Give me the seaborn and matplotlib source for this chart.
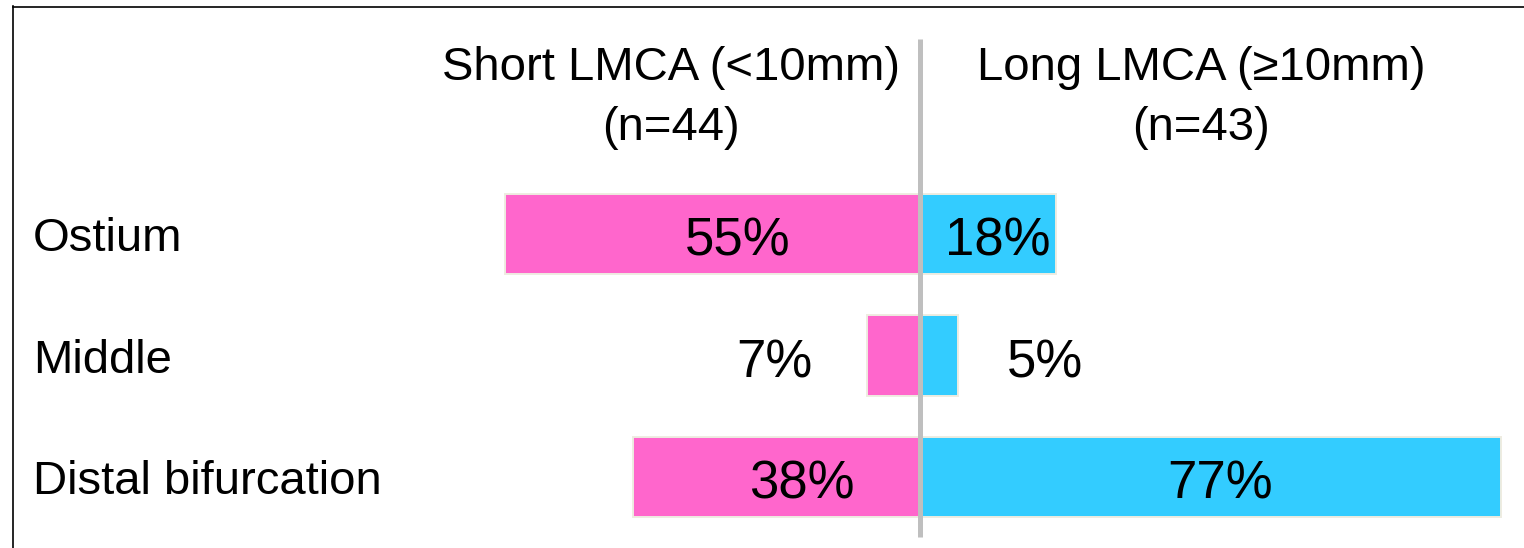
import matplotlib
matplotlib.use("Agg")
import matplotlib.pyplot as plt
import matplotlib.transforms as mtransforms
import pandas as pd
import seaborn as sns

# Lesion location by LMCA length (percent of patients)
locations = ["Ostium", "Middle", "Distal bifurcation"]
short_pct = [55, 7, 38]
long_pct = [18, 5, 77]
short_header = ["Short LMCA (<10mm)", "(n=44)"]
long_header = ["Long LMCA (\u226510mm)", "(n=43)"]

PINK = "#FF66CC"
BLUE = "#33CCFF"
EDGE = "#EEECE1"
GRAY = "#BFBFBF"

sns.set_style("white")
plt.rcParams["font.family"] = ["Liberation Sans", "DejaVu Sans"]
plt.rcParams["text.color"] = "black"

df = pd.DataFrame({
    "location": locations,
    "short": [-v for v in short_pct],
    "long": long_pct,
})

W, H = 1524, 548
fig = plt.figure(figsize=(W / 100, H / 100), dpi=100)
ax = fig.add_axes([13 / W, 0, 1 - 13 / W, 1 - 6.5 / H])

bar_kw = dict(orient="h", saturation=1, edgecolor=EDGE, linewidth=1.4,
              width=0.66, ax=ax, zorder=2)
sns.barplot(data=df, x="short", y="location", order=locations, color=PINK, **bar_kw)
sns.barplot(data=df, x="long", y="location", order=locations, color=BLUE, **bar_kw)

# scale: ~7.55 px per percentage point, centre divider at x=920 px
ax.set_xlim((13 - 920) / 7.55, (W - 920) / 7.55)
ax.set_ylim((H - 234) / 121.5, (6.5 - 234) / 121.5)

# centre divider
ax.plot([0, 0], [(537 - 234) / 121.5, (39 - 234) / 121.5], color=GRAY,
        lw=3.6, solid_capstyle="butt", zorder=3)

# frame: only top and left edges
for side in ["right", "bottom"]:
    ax.spines[side].set_visible(False)
for side in ["left", "top"]:
    ax.spines[side].set_visible(True)
    ax.spines[side].set_color("black")
    ax.spines[side].set_linewidth(1.2)

ax.set_xticks([])
ax.set_yticks([])
ax.set_xlabel("")
ax.set_ylabel("")

# category labels at the left
ytrans = mtransforms.blended_transform_factory(ax.transAxes, ax.transData)
for i, name in enumerate(locations):
    ax.text(20 / (W - 13), i + 0.14, name, transform=ytrans, ha="left",
            va="baseline", fontsize=34, color="black")

# percentage labels
PCT_FS = 38
for i, (s, l) in enumerate(zip(short_pct, long_pct)):
    if s >= 10:
        ax.text(-s / 2 + 3.4, i + 0.18, f"{s}%", ha="center", va="baseline",
                fontsize=PCT_FS, color="black", zorder=4)
    else:
        ax.text(-s - 7.2, i + 0.18, f"{s}%", ha="right", va="baseline",
                fontsize=PCT_FS, color="black", zorder=4)
    if l >= 10:
        ax.text(l / 2 + 1.3, i + 0.18, f"{l}%", ha="center", va="baseline",
                fontsize=PCT_FS, color="black", zorder=4)
    else:
        ax.text(l + 6.5, i + 0.18, f"{l}%", ha="left", va="baseline",
                fontsize=PCT_FS, color="black", zorder=4)

# column headers
for xc, lines in [(-33.0, short_header), (37.2, long_header)]:
    for k, line in enumerate(lines):
        ax.text(xc, (80 + 60 * k - 234) / 121.5, line, ha="center",
                va="baseline", fontsize=34, color="black")

fig.savefig("out.png", dpi=100, facecolor="white")
